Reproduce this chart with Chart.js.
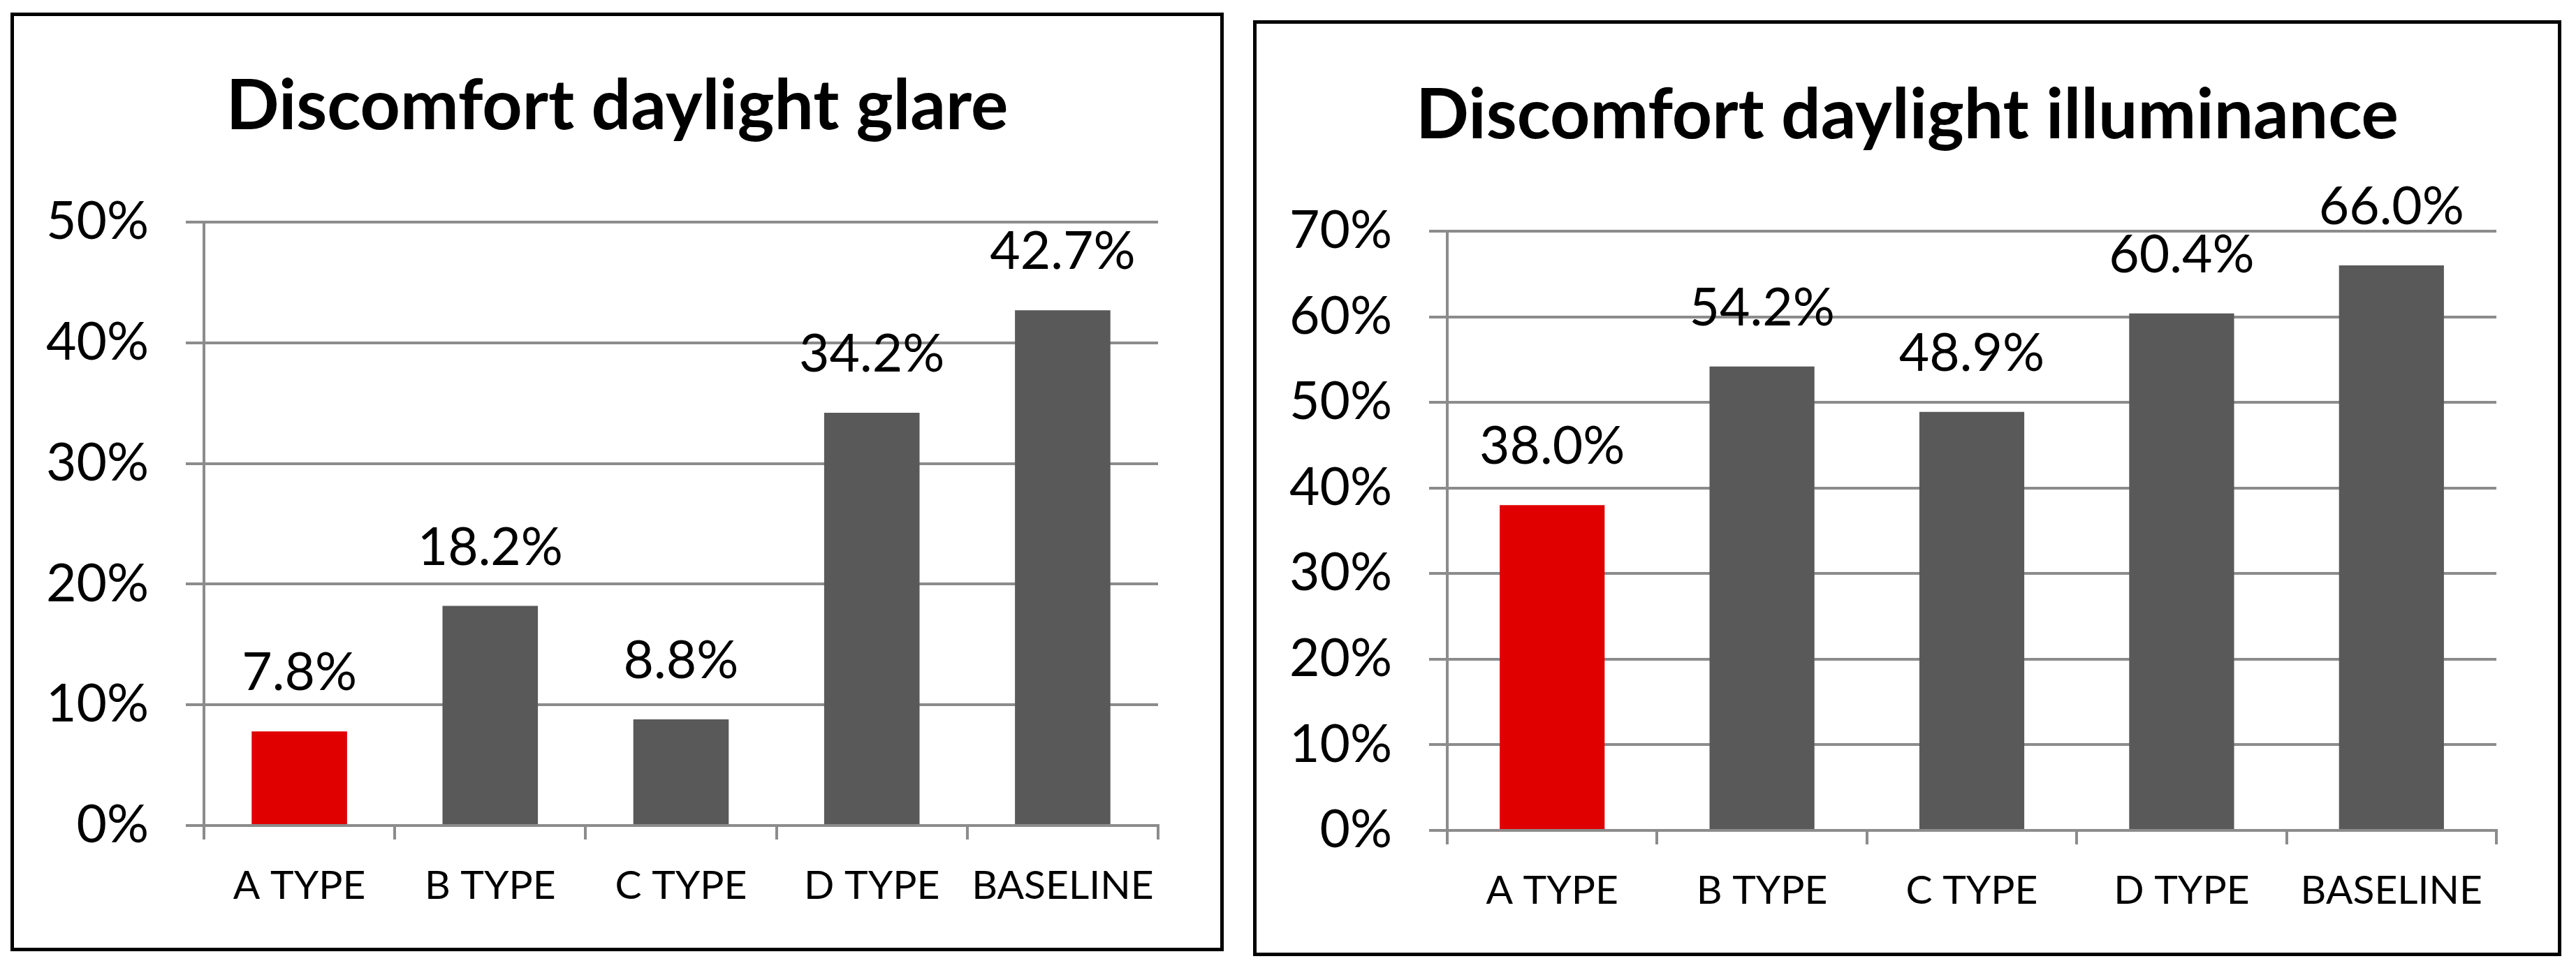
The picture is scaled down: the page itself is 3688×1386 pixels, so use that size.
<!DOCTYPE html>
<html>
<head>
<meta charset="utf-8">
<title>Discomfort daylight</title>
<script src="https://cdn.jsdelivr.net/npm/chart.js"></script>
<style>
  body { margin: 0; background: #fff; width: 3688px; height: 1386px; position: relative; overflow: hidden; }
  .panel { position: absolute; border: 5px solid #000; box-sizing: border-box; background: #fff; }
  #glarePanel { left: 15px; top: 18px; width: 1737px; height: 1344px; }
  #illumPanel { left: 1794px; top: 29px; width: 1873px; height: 1340px; }
</style>
</head>
<body>
<div class="panel" id="glarePanel"><canvas id="glareChart"></canvas></div>
<div class="panel" id="illumPanel"><canvas id="illumChart"></canvas></div>
<script>
// Categories shared by both charts
const categories = ['A TYPE', 'B TYPE', 'C TYPE', 'D TYPE', 'BASELINE'];

// Values in percent
const glareValues = [7.8, 18.2, 8.8, 34.2, 42.7];
const illuminanceValues = [38.0, 54.2, 48.9, 60.4, 66.0];

// Axis ranges (ticks every 10%)
const glareMax = 50;
const illuminanceMax = 70;
const tickStep = 10;

// Colours: first bar highlighted red, the rest dark gray
const barColors = ['#e00000', '#595959', '#595959', '#595959', '#595959'];
const gridColor = '#8c8c8c';

Chart.defaults.font.family = 'Lato, "Open Sans", sans-serif';
Chart.defaults.color = '#000';

// Draws the value above every bar
const valueLabels = {
  id: 'valueLabels',
  afterDatasetsDraw(chart) {
    const ctx = chart.ctx;
    const meta = chart.getDatasetMeta(0);
    const values = chart.data.datasets[0].data;
    ctx.save();
    ctx.font = '75px Lato, "Open Sans", sans-serif';
    ctx.fillStyle = '#000';
    ctx.textAlign = 'center';
    ctx.textBaseline = 'alphabetic';
    meta.data.forEach((bar, i) => {
      ctx.fillText(values[i].toFixed(1) + '%', bar.x, bar.y - 59);
    });
    ctx.restore();
  }
};

function renderBarChart(canvasId, titleText, values, maxValue, box) {
  const ctx = document.getElementById(canvasId).getContext('2d');
  return new Chart(ctx, {
    type: 'bar',
    data: {
      labels: categories,
      datasets: [{
        data: values,
        backgroundColor: barColors,
        borderWidth: 0,
        categoryPercentage: 1.0,
        barPercentage: 0.5
      }]
    },
    options: {
      responsive: true,
      maintainAspectRatio: false,
      animation: false,
      layout: { padding: 0 },
      plugins: {
        legend: { display: false },
        tooltip: { enabled: false },
        title: {
          display: true,
          text: titleText,
          color: '#000',
          font: { size: 100, weight: 'bold' },
          padding: { top: box.titleTop, bottom: box.titleBottom }
        }
      },
      scales: {
        x: {
          afterFit: scale => { scale.height = 175; },
          grid: {
            offset: true,
            drawOnChartArea: false,
            drawTicks: true,
            tickLength: 20,
            color: gridColor,
            lineWidth: 4
          },
          border: { display: true, color: gridColor, width: 4, z: 1 },
          ticks: {
            autoSkip: false,
            maxRotation: 0,
            padding: 32,
            color: '#000',
            font: { size: 57 }
          }
        },
        y: {
          min: 0,
          max: maxValue,
          afterFit: scale => { scale.width = box.yWidth; },
          grid: {
            color: gridColor,
            lineWidth: 4,
            drawTicks: true,
            tickLength: 26
          },
          border: { display: true, color: gridColor, width: 4 },
          ticks: {
            stepSize: tickStep,
            padding: 53,
            color: '#000',
            font: { size: 75 },
            callback: value => value + '%'
          }
        },
        // empty right-hand axis, only keeps the white margin so the title stays centred
        spacer: {
          type: 'linear',
          position: 'right',
          afterFit: scale => { scale.width = box.rightPad; },
          grid: { display: false },
          border: { display: false },
          ticks: { display: false }
        }
      }
    },
    plugins: [valueLabels]
  });
}

renderBarChart('glareChart', 'Discomfort daylight glare', glareValues, glareMax,
  { yWidth: 272, rightPad: 89, titleTop: 70, titleBottom: 105 });

renderBarChart('illumChart', 'Discomfort daylight illuminance', illuminanceValues, illuminanceMax,
  { yWidth: 273, rightPad: 88, titleTop: 72, titleBottom: 105 });
</script>
</body>
</html>
